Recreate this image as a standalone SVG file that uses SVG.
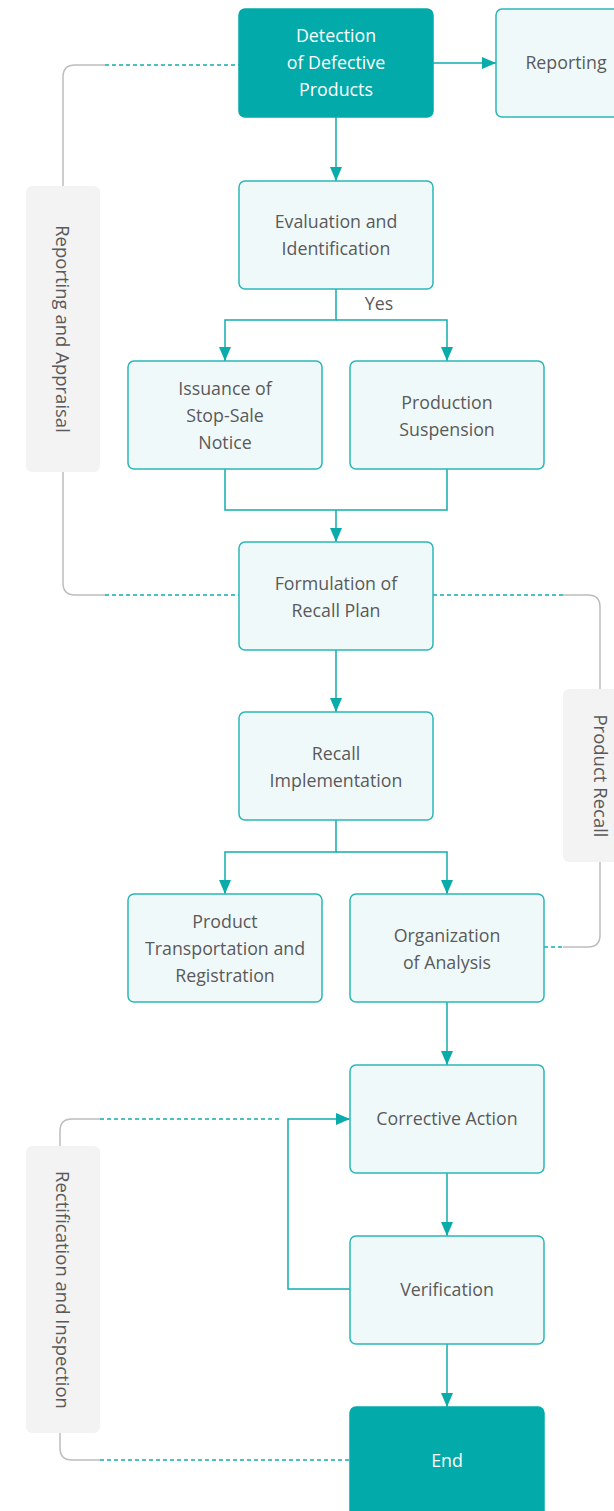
<svg xmlns="http://www.w3.org/2000/svg" width="614" height="1511" viewBox="0 0 614 1511">
<defs>
<marker id="arr" viewBox="0 0 14 12" refX="14" refY="6" markerWidth="14" markerHeight="12" markerUnits="userSpaceOnUse" orient="auto">
<path d="M0,0 L14,6 L0,12 Z" fill="#0aabab"/>
</marker>
<style>
.n{fill:#f0f9fa;stroke:#2bb6b6;stroke-width:1.5}
.d{fill:#03aaaa;stroke:#03aaaa;stroke-width:1.5}
.t{font-family:"Open Sans",Lato,sans-serif;font-size:17.8px;fill:#5a5a5a;text-anchor:middle}
.s{font-size:18.5px}
.w{fill:#ffffff}
.c{fill:none;stroke:#12adad;stroke-width:1.5}
.g{fill:none;stroke:#bdbdbd;stroke-width:1.5}
.ds{fill:none;stroke:#12adad;stroke-width:1.5;stroke-dasharray:4 3}
.lb{fill:#f3f3f3}
</style>
</defs>
<rect width="614" height="1511" fill="#ffffff"/>
<g id="groups">
<g id="g-reporting-appraisal">
<path class="g" d="M105,65 H75 Q63,65 63,77 V186 M63,472 V583 Q63,595 75,595 H105"/>
<path class="ds" d="M105,65 H239 M105,595 H239"/>
<rect class="lb" x="26" y="186" width="74" height="286" rx="6"/>
<text class="t s" transform="translate(56,329) rotate(90)">Reporting and Appraisal</text>
</g>
<g id="g-product-recall">
<path class="g" d="M563,595 H588 Q600,595 600,607 V689 M600,862 V935 Q600,947 588,947 H563"/>
<path class="ds" d="M433,595 H563 M544,947 H563"/>
<rect class="lb" x="563" y="689" width="60" height="173" rx="6"/>
<text class="t s" transform="translate(594,776) rotate(90)">Product Recall</text>
</g>
<g id="g-rectification">
<path class="g" d="M100,1119 H72 Q60,1119 60,1131 V1146 M60,1433 V1448 Q60,1460 72,1460 H100"/>
<path class="ds" d="M100,1119 H280 M100,1460 H350"/>
<rect class="lb" x="26" y="1146" width="74" height="287" rx="6"/>
<text class="t s" transform="translate(56,1290) rotate(90)">Rectification and Inspection</text>
</g>
</g>
<g id="connectors">
<path class="c" d="M433,63 H496" marker-end="url(#arr)"/>
<path class="c" d="M336,117 V181" marker-end="url(#arr)"/>
<path class="c" d="M336,289 V320 H225 V361" marker-end="url(#arr)"/>
<path class="c" d="M336,320 H447 V361" marker-end="url(#arr)"/>
<text class="t" x="379" y="310">Yes</text>
<path class="c" d="M225,469 V510 H447 V469"/>
<path class="c" d="M336,510 V542" marker-end="url(#arr)"/>
<path class="c" d="M336,650 V712" marker-end="url(#arr)"/>
<path class="c" d="M336,820 V852 H225 V894" marker-end="url(#arr)"/>
<path class="c" d="M336,852 H447 V894" marker-end="url(#arr)"/>
<path class="c" d="M447,1002 V1065" marker-end="url(#arr)"/>
<path class="c" d="M447,1173 V1236" marker-end="url(#arr)"/>
<path class="c" d="M447,1344 V1407" marker-end="url(#arr)"/>
<path class="c" d="M350,1289 H288 V1119 H350" marker-end="url(#arr)"/>
</g>
<g id="n-detection"><rect class="d" x="239" y="9" width="194" height="108" rx="6"/>
<text class="t w" x="336" y="42">Detection</text><text class="t w" x="336" y="69">of Defective</text><text class="t w" x="336" y="96">Products</text></g>
<g id="n-reporting"><rect class="n" x="496" y="9" width="140" height="108" rx="6"/>
<text class="t" x="566" y="69">Reporting</text></g>
<g id="n-evaluation"><rect class="n" x="239" y="181" width="194" height="108" rx="6"/>
<text class="t" x="336" y="228">Evaluation and</text><text class="t" x="336" y="255">Identification</text></g>
<g id="n-issuance"><rect class="n" x="128" y="361" width="194" height="108" rx="6"/>
<text class="t" x="225" y="395">Issuance of</text><text class="t" x="225" y="422">Stop-Sale</text><text class="t" x="225" y="449">Notice</text></g>
<g id="n-suspension"><rect class="n" x="350" y="361" width="194" height="108" rx="6"/>
<text class="t" x="447" y="409">Production</text><text class="t" x="447" y="436">Suspension</text></g>
<g id="n-formulation"><rect class="n" x="239" y="542" width="194" height="108" rx="6"/>
<text class="t" x="336" y="590">Formulation of</text><text class="t" x="336" y="617">Recall Plan</text></g>
<g id="n-implementation"><rect class="n" x="239" y="712" width="194" height="108" rx="6"/>
<text class="t" x="336" y="760">Recall</text><text class="t" x="336" y="787">Implementation</text></g>
<g id="n-transportation"><rect class="n" x="128" y="894" width="194" height="108" rx="6"/>
<text class="t" x="225" y="928">Product</text><text class="t" x="225" y="955">Transportation and</text><text class="t" x="225" y="982">Registration</text></g>
<g id="n-organization"><rect class="n" x="350" y="894" width="194" height="108" rx="6"/>
<text class="t" x="447" y="942">Organization</text><text class="t" x="447" y="969">of Analysis</text></g>
<g id="n-corrective"><rect class="n" x="350" y="1065" width="194" height="108" rx="6"/>
<text class="t" x="447" y="1125">Corrective Action</text></g>
<g id="n-verification"><rect class="n" x="350" y="1236" width="194" height="108" rx="6"/>
<text class="t" x="447" y="1296">Verification</text></g>
<g id="n-end"><rect class="d" x="350" y="1407" width="194" height="120" rx="6"/>
<text class="t w" x="447" y="1467">End</text></g>
</svg>
